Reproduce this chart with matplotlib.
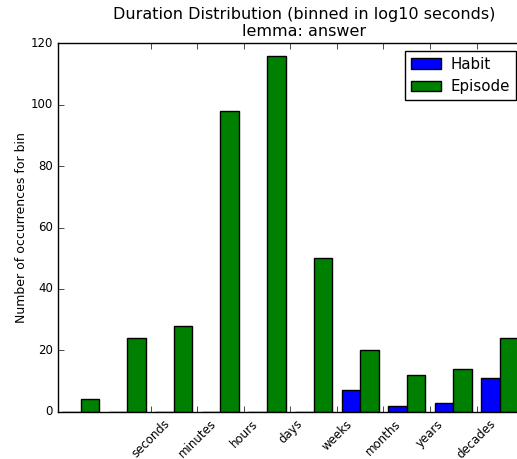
import numpy as np
import matplotlib
matplotlib.use("Agg")
import matplotlib.pyplot as plt

plt.style.use("classic")

# counts per log10-second bin (bins 0..9)
bins = np.arange(10)
habit_counts = [0, 0, 0, 0, 0, 0, 7, 2, 3, 11]
episode_counts = [4, 24, 28, 98, 116, 50, 20, 12, 14, 24]
unit_labels = ["seconds", "minutes", "hours", "days", "weeks", "months", "years", "decades"]

bar_w = 0.4

fig = plt.figure(figsize=(5.17, 4.59), dpi=100, facecolor="white")
# axes runs past the right edge of the canvas
ax = fig.add_axes([0.1128, 0.103, 0.9505, 0.8026])

ax.bar(bins, habit_counts, bar_w, align="edge", color="b", edgecolor="k", label="Habit")
ax.bar(bins + bar_w, episode_counts, bar_w, align="edge", color="g", edgecolor="k", label="Episode")

ax.set_xlim(-0.08, 10.47)
ax.set_ylim(0, 120)
ax.set_xticks(np.arange(1, 9) + 0.9)
ax.set_xticklabels(unit_labels, rotation=45, fontsize=8.5)
ax.tick_params(axis="y", labelsize=8.5)

ax.set_title("Duration Distribution (binned in log10 seconds)\nlemma: answer", fontsize=11.5)
ax.set_ylabel("Number of occurrences for bin", fontsize=9, labelpad=1.5)
ax.legend(loc="upper right", fontsize=10.8, handletextpad=0.6,
          bbox_to_anchor=(0.9457, 1.0))

fig.savefig("out.png", dpi=100, facecolor="white")
